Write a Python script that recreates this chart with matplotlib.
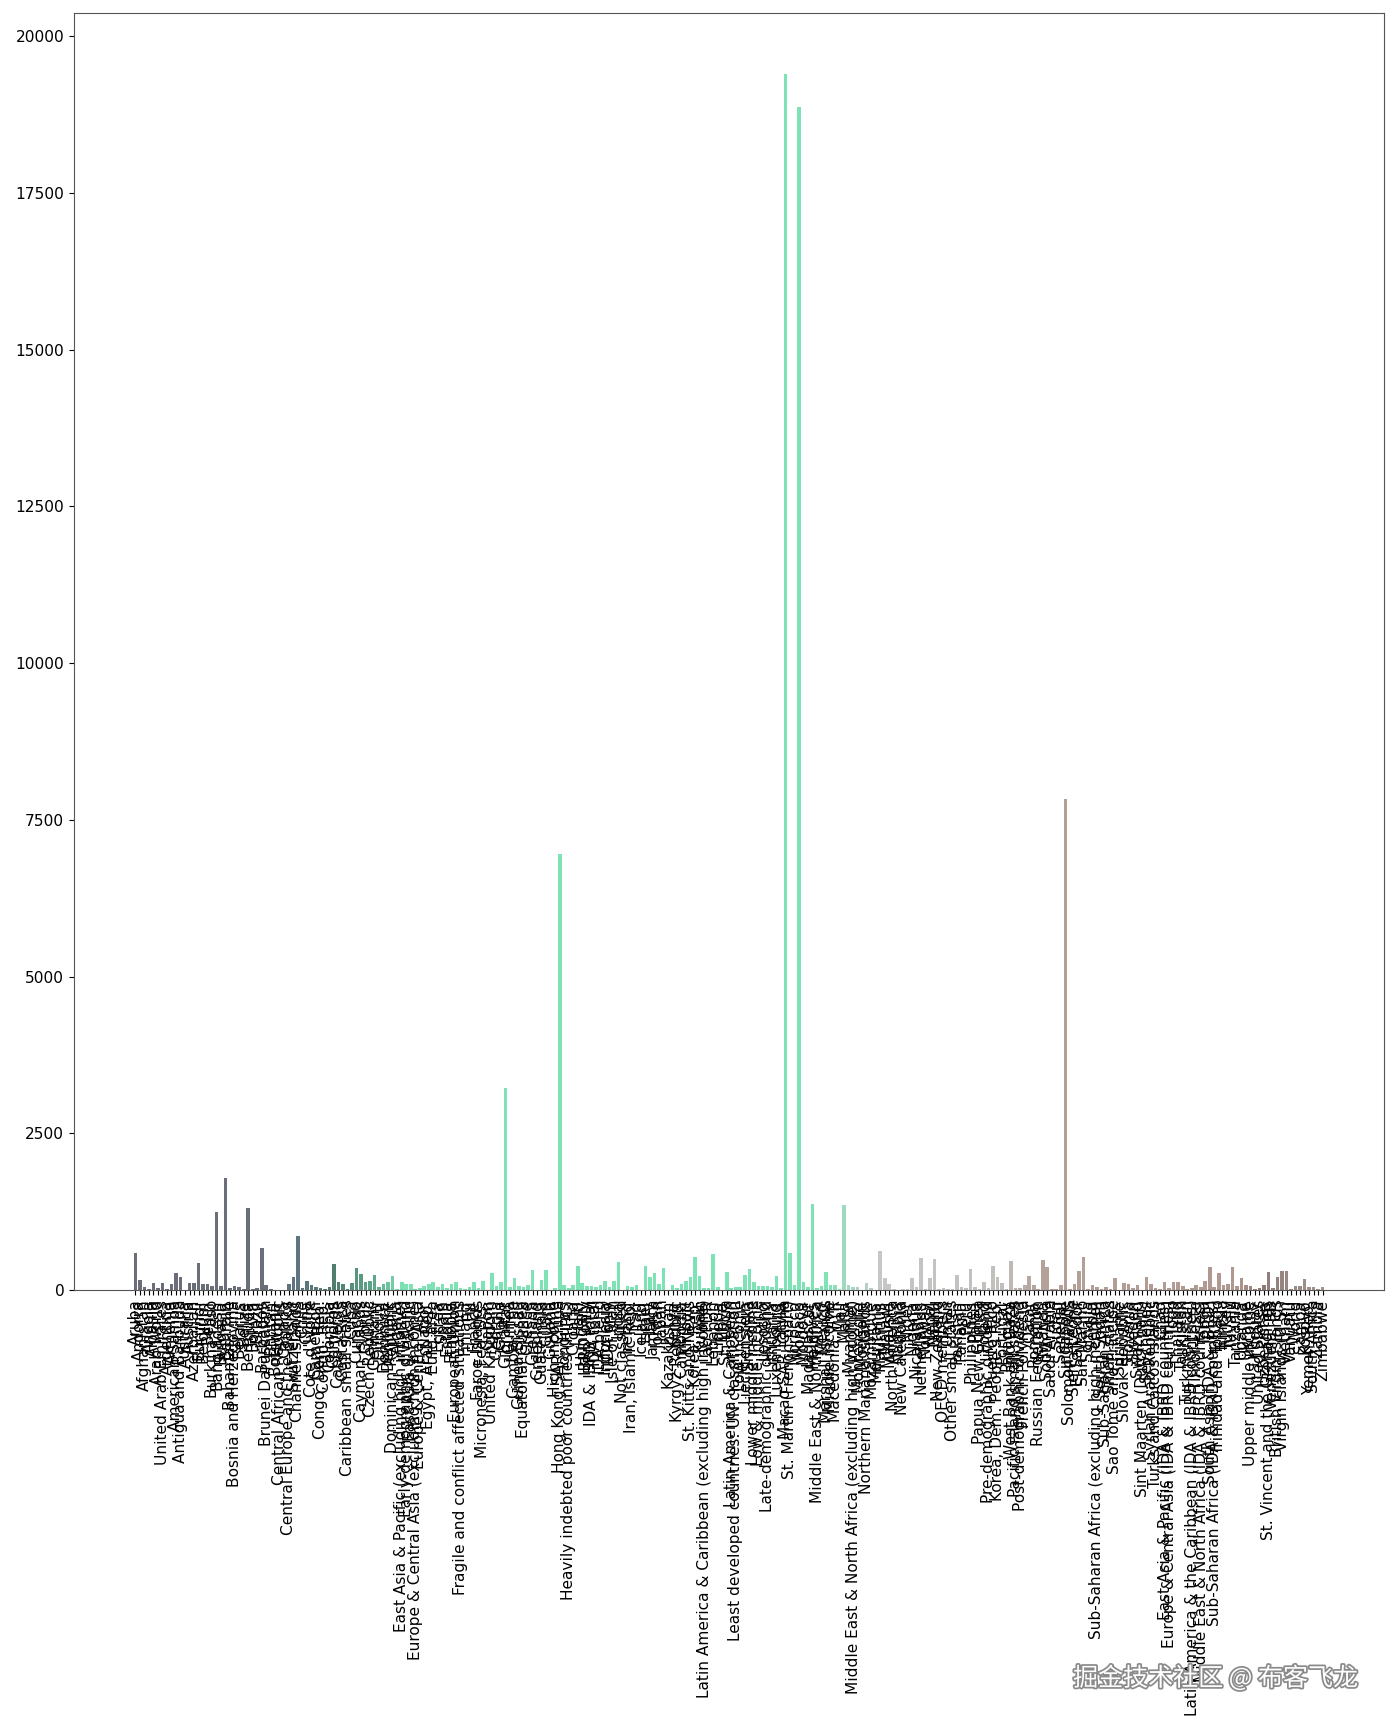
"""
plot.py

Densidade populacional (hab/km2) por pais / agregado, barras com gradiente de cor.
"""
import numpy as np
import matplotlib
matplotlib.use("Agg")
import matplotlib.pyplot as plt
import matplotlib.patheffects as pe
from matplotlib.colors import LinearSegmentedColormap

# ======================================================================
COUNTRIES = [
    "Aruba", "Andorra", "Afghanistan", "Angola", "Albania", "Arab World",
    "United Arab Emirates", "Argentina", "Armenia", "American Samoa",
    "Antigua and Barbuda", "Australia", "Austria", "Azerbaijan", "Burundi",
    "Belgium", "Benin", "Burkina Faso", "Bangladesh", "Bulgaria", "Bahrain",
    "Bahamas, The", "Bosnia and Herzegovina", "Belarus", "Belize", "Bermuda",
    "Bolivia", "Brazil", "Barbados", "Brunei Darussalam", "Bhutan", "Botswana",
    "Central African Republic", "Canada", "Central Europe and the Baltics",
    "Switzerland", "Channel Islands", "Chile", "China", "Cote d'Ivoire",
    "Cameroon", "Congo, Dem. Rep.", "Congo, Rep.", "Colombia", "Comoros",
    "Cabo Verde", "Costa Rica", "Caribbean small states", "Cuba", "Curacao",
    "Cayman Islands", "Cyprus", "Czech Republic", "Germany", "Djibouti",
    "Dominica", "Denmark", "Dominican Republic", "Algeria",
    "East Asia & Pacific (excluding high income)", "Early-demographic dividend",
    "East Asia & Pacific", "Europe & Central Asia (excluding high income)",
    "Europe & Central Asia", "Ecuador", "Egypt, Arab Rep.", "Euro area",
    "Eritrea", "Spain", "Estonia", "Ethiopia", "European Union",
    "Fragile and conflict affected situations", "Finland", "Fiji", "France",
    "Faroe Islands", "Micronesia, Fed. Sts.", "Gabon", "United Kingdom",
    "Georgia", "Ghana", "Gibraltar", "Guinea", "Gambia, The", "Guinea-Bissau",
    "Equatorial Guinea", "Greece", "Grenada", "Greenland", "Guatemala", "Guam",
    "Guyana", "High income", "Hong Kong SAR, China", "Honduras",
    "Heavily indebted poor countries (HIPC)", "Croatia", "Haiti", "Hungary",
    "IBRD only", "IDA & IBRD total", "IDA total", "IDA blend", "Indonesia",
    "IDA only", "Isle of Man", "India", "Not classified", "Ireland",
    "Iran, Islamic Rep.", "Iraq", "Iceland", "Israel", "Italy", "Jamaica",
    "Jordan", "Japan", "Kazakhstan", "Kenya", "Kyrgyz Republic", "Cambodia",
    "Kiribati", "St. Kitts and Nevis", "Korea, Rep.", "Kuwait",
    "Latin America & Caribbean (excluding high income)", "Lao PDR", "Lebanon",
    "Liberia", "Libya", "St. Lucia", "Latin America & Caribbean",
    "Least developed countries: UN classification", "Low income",
    "Liechtenstein", "Sri Lanka", "Lower middle income", "Low & middle income",
    "Lesotho", "Late-demographic dividend", "Lithuania", "Luxembourg", "Latvia",
    "Macao SAR, China", "St. Martin (French part)", "Morocco", "Monaco",
    "Moldova", "Madagascar", "Maldives", "Middle East & North Africa",
    "Mexico", "Marshall Islands", "Middle income", "Macedonia, FYR", "Mali",
    "Malta", "Myanmar", "Middle East & North Africa (excluding high income)",
    "Montenegro", "Mongolia", "Northern Mariana Islands", "Mozambique",
    "Mauritania", "Mauritius", "Malawi", "Malaysia", "North America",
    "Namibia", "New Caledonia", "Niger", "Nigeria", "Nicaragua", "Netherlands",
    "Norway", "Nepal", "Nauru", "New Zealand", "OECD members", "Oman",
    "Other small states", "Pakistan", "Panama", "Peru", "Philippines", "Palau",
    "Papua New Guinea", "Poland", "Pre-demographic dividend", "Puerto Rico",
    "Korea, Dem. People's Rep.", "Portugal", "Paraguay", "West Bank and Gaza",
    "Pacific island small states", "Post-demographic dividend",
    "French Polynesia", "Qatar", "Romania", "Russian Federation", "Rwanda",
    "South Asia", "Saudi Arabia", "Sudan", "Senegal", "Singapore",
    "Solomon Islands", "Sierra Leone", "El Salvador", "San Marino", "Somalia",
    "Serbia", "Sub-Saharan Africa (excluding high income)", "South Sudan",
    "Sub-Saharan Africa", "Small states", "Sao Tome and Principe", "Suriname",
    "Slovak Republic", "Slovenia", "Sweden", "Swaziland",
    "Sint Maarten (Dutch part)", "Seychelles", "Syrian Arab Republic",
    "Turks and Caicos Islands", "Chad",
    "East Asia & Pacific (IDA & IBRD countries)",
    "Europe & Central Asia (IDA & IBRD countries)", "Togo", "Thailand",
    "Tajikistan", "Turkmenistan",
    "Latin America & the Caribbean (IDA & IBRD countries)", "Timor-Leste",
    "Middle East & North Africa (IDA & IBRD countries)", "Tonga",
    "South Asia (IDA & IBRD)", "Sub-Saharan Africa (IDA & IBRD countries)",
    "Trinidad and Tobago", "Tunisia", "Turkey", "Tuvalu", "Tanzania", "Uganda",
    "Ukraine", "Upper middle income", "Uruguay", "United States", "Uzbekistan",
    "St. Vincent and the Grenadines", "Venezuela, RB", "British Virgin Islands",
    "Virgin Islands (U.S.)", "Vietnam", "Vanuatu", "World", "Samoa", "Kosovo",
    "Yemen, Rep.", "South Africa", "Zambia", "Zimbabwe",
]

# densidade (pessoas por km2)
DENSITY = [
    585, 160, 53, 22, 105, 30, 110, 16, 103, 272,
    210, 3, 105, 117, 430, 96, 94, 66, 1245, 66,
    1780, 39, 69, 47, 16, 1305, 10, 25, 665, 80,
    21, 4, 7, 4, 94, 211, 862, 24, 146, 72,
    49, 34, 14, 43, 419, 129, 95, 18, 109, 357,
    250, 127, 137, 234, 40, 97, 134, 219, 17, 124,
    95, 93, 20, 34, 65, 92, 126, 50, 93, 31,
    100, 121, 38, 18, 49, 122, 35, 150, 7, 269,
    65, 122, 3220, 51, 196, 64, 43, 84, 315, 0.1,
    153, 315, 4, 35, 6955, 81, 37, 75, 388, 108,
    60, 58, 51, 85, 143, 45, 147, 441, 0, 68,
    48, 83, 3, 384, 207, 265, 103, 349, 6, 83,
    31, 88, 138, 213, 525, 218, 31, 29, 575, 47,
    4, 290, 31, 48, 44, 234, 332, 131, 67, 70,
    62, 46, 218, 32, 19400, 590, 78, 18870, 124, 42,
    1370, 39, 65, 293, 78, 82, 14, 1357, 81, 42,
    46, 2, 119, 36, 4, 620, 186, 92, 20, 3,
    15, 16, 199, 51, 503, 14, 199, 500, 18, 37,
    14, 20, 245, 53, 25, 339, 46, 17, 124, 39,
    390, 209, 113, 17, 470, 33, 35, 76, 221, 86,
    9, 473, 369, 15, 17, 78, 7830, 21, 100, 305,
    532, 22, 81, 43, 19, 43, 17, 199, 4, 113,
    102, 24, 75, 0, 202, 100, 36, 11, 124, 32,
    135, 134, 61, 12, 31, 82, 42, 148, 369, 43,
    266, 72, 102, 371, 60, 198, 78, 56, 20, 35,
    74, 280, 35, 203, 298, 301, 22, 57, 68, 168,
    51, 45, 22, 40,
]

# paradas do gradiente de cor ao longo das barras
COLOR_STOPS = [
    (0.00, "#6b6d78"), (0.10, "#6a6e78"), (0.135, "#5f7480"),
    (0.165, "#4f7d70"), (0.20, "#5ea88a"), (0.225, "#7de3b5"),
    (0.58, "#7de3b5"), (0.60, "#a8d8c0"), (0.63, "#c6c6c6"),
    (0.73, "#c2bfbc"), (0.76, "#b4a29a"), (0.93, "#b0988f"),
    (0.95, "#8c7a76"), (1.00, "#a49490"),
]
# ======================================================================


def main():
    n = len(COUNTRIES)
    x = np.arange(n)
    cmap = LinearSegmentedColormap.from_list("faixas", COLOR_STOPS)
    colors = cmap(x / (n - 1))

    fig = plt.figure(figsize=(14, 17.34), dpi=100)
    ax = fig.add_axes([74 / 1400, 1 - 1290 / 1734, 1310 / 1400, 1277 / 1734])

    ax.bar(x, DENSITY, width=0.8, color=colors)

    ax.set_xticks(x)
    ax.set_xticklabels(COUNTRIES, rotation=90, fontsize=11.1)
    ax.tick_params(axis="y", labelsize=11.1)
    ax.set_yticks(np.arange(0, 20001, 2500))
    for s in ax.spines.values():
        s.set_color("#555555")

    # marca d'agua
    fig.text(0.97, 0.032, "掘金技术社区 @ 布客飞龙", ha="right", va="center",
             fontsize=18, color="white",
             family=["Noto Sans CJK SC", "DejaVu Sans"],
             path_effects=[pe.withStroke(linewidth=2.5, foreground="#8a8a8a")])

    fig.savefig("out.png", dpi=100)
    plt.close(fig)


if __name__ == "__main__":
    main()
